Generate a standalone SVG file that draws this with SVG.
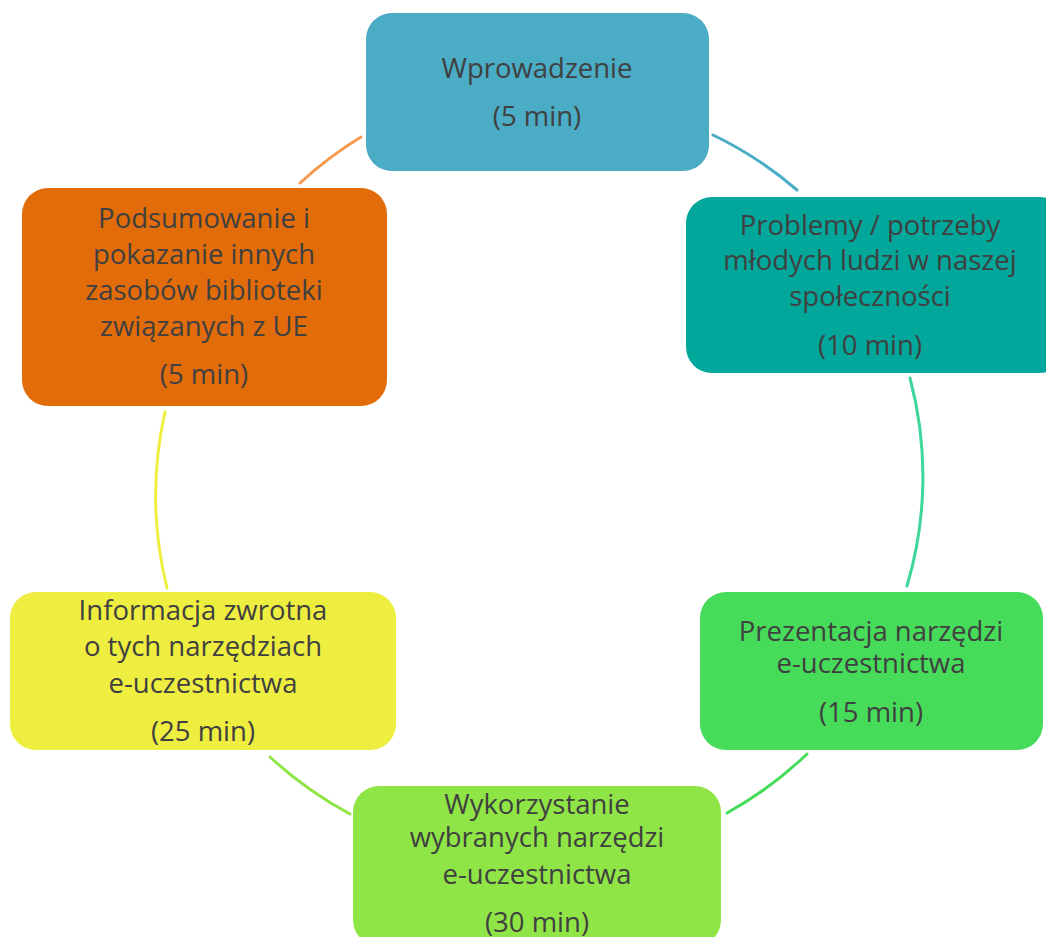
<svg xmlns="http://www.w3.org/2000/svg" width="1046" height="937" viewBox="0 0 1046 937">
<style>
text{font-family:"Open Sans","Noto Sans","Liberation Sans",sans-serif;font-size:27.5px;fill:#404040;text-anchor:middle}
.c{fill:none;stroke-width:3;stroke-linecap:round}
</style>
<rect width="1046" height="937" fill="#fff"/>
<g id="connectors">
<path class="c" stroke="#4BACC6" d="M713,135 A383,383 0 0 1 797,190"/>
<path class="c" stroke="#3FD69C" d="M910,378 A383,383 0 0 1 907,586"/>
<path class="c" stroke="#46DC5A" d="M807,754 A386,386 0 0 1 727,813"/>
<path class="c" stroke="#8FE546" d="M350,814 A388,388 0 0 1 270,757"/>
<path class="c" stroke="#EEEE40" d="M167,588 A383,383 0 0 1 165,412"/>
<path class="c" stroke="#F59B4F" d="M300,183 A383,383 0 0 1 361,137"/>
</g>
<g id="n1">
<rect x="366" y="13" width="343" height="158" rx="26" fill="#4BACC6"/>
<text x="537" y="78">Wprowadzenie</text>
<text x="537" y="126">(5 min)</text>
</g>
<g id="n2">
<rect x="686" y="197" width="380" height="176" rx="26" fill="#00A79A"/>
<text x="870" y="235">Problemy / potrzeby</text>
<text x="870" y="270">młodych ludzi w naszej</text>
<text x="870" y="306">społeczności</text>
<text x="870" y="355">(10 min)</text>
</g>
<g id="n3">
<rect x="700" y="592" width="343" height="158" rx="26" fill="#46DC5A"/>
<text x="871" y="641">Prezentacja narzędzi</text>
<text x="871" y="673">e-uczestnictwa</text>
<text x="871" y="722">(15 min)</text>
</g>
<g id="n4">
<rect x="353" y="786" width="368" height="160" rx="26" fill="#8FE546"/>
<text x="537" y="814">Wykorzystanie</text>
<text x="537" y="847">wybranych narzędzi</text>
<text x="537" y="884">e-uczestnictwa</text>
<text x="537" y="932">(30 min)</text>
</g>
<g id="n5">
<rect x="10" y="592" width="386" height="158" rx="26" fill="#EEEE40"/>
<text x="203" y="620">Informacja zwrotna</text>
<text x="203" y="656">o tych narzędziach</text>
<text x="203" y="693">e-uczestnictwa</text>
<text x="203" y="741">(25 min)</text>
</g>
<g id="n6">
<rect x="22" y="188" width="365" height="218" rx="26" fill="#E36C0A"/>
<text x="204" y="228">Podsumowanie i</text>
<text x="204" y="264">pokazanie innych</text>
<text x="204" y="300">zasobów biblioteki</text>
<text x="204" y="336">związanych z UE</text>
<text x="204" y="384">(5 min)</text>
</g>
</svg>
